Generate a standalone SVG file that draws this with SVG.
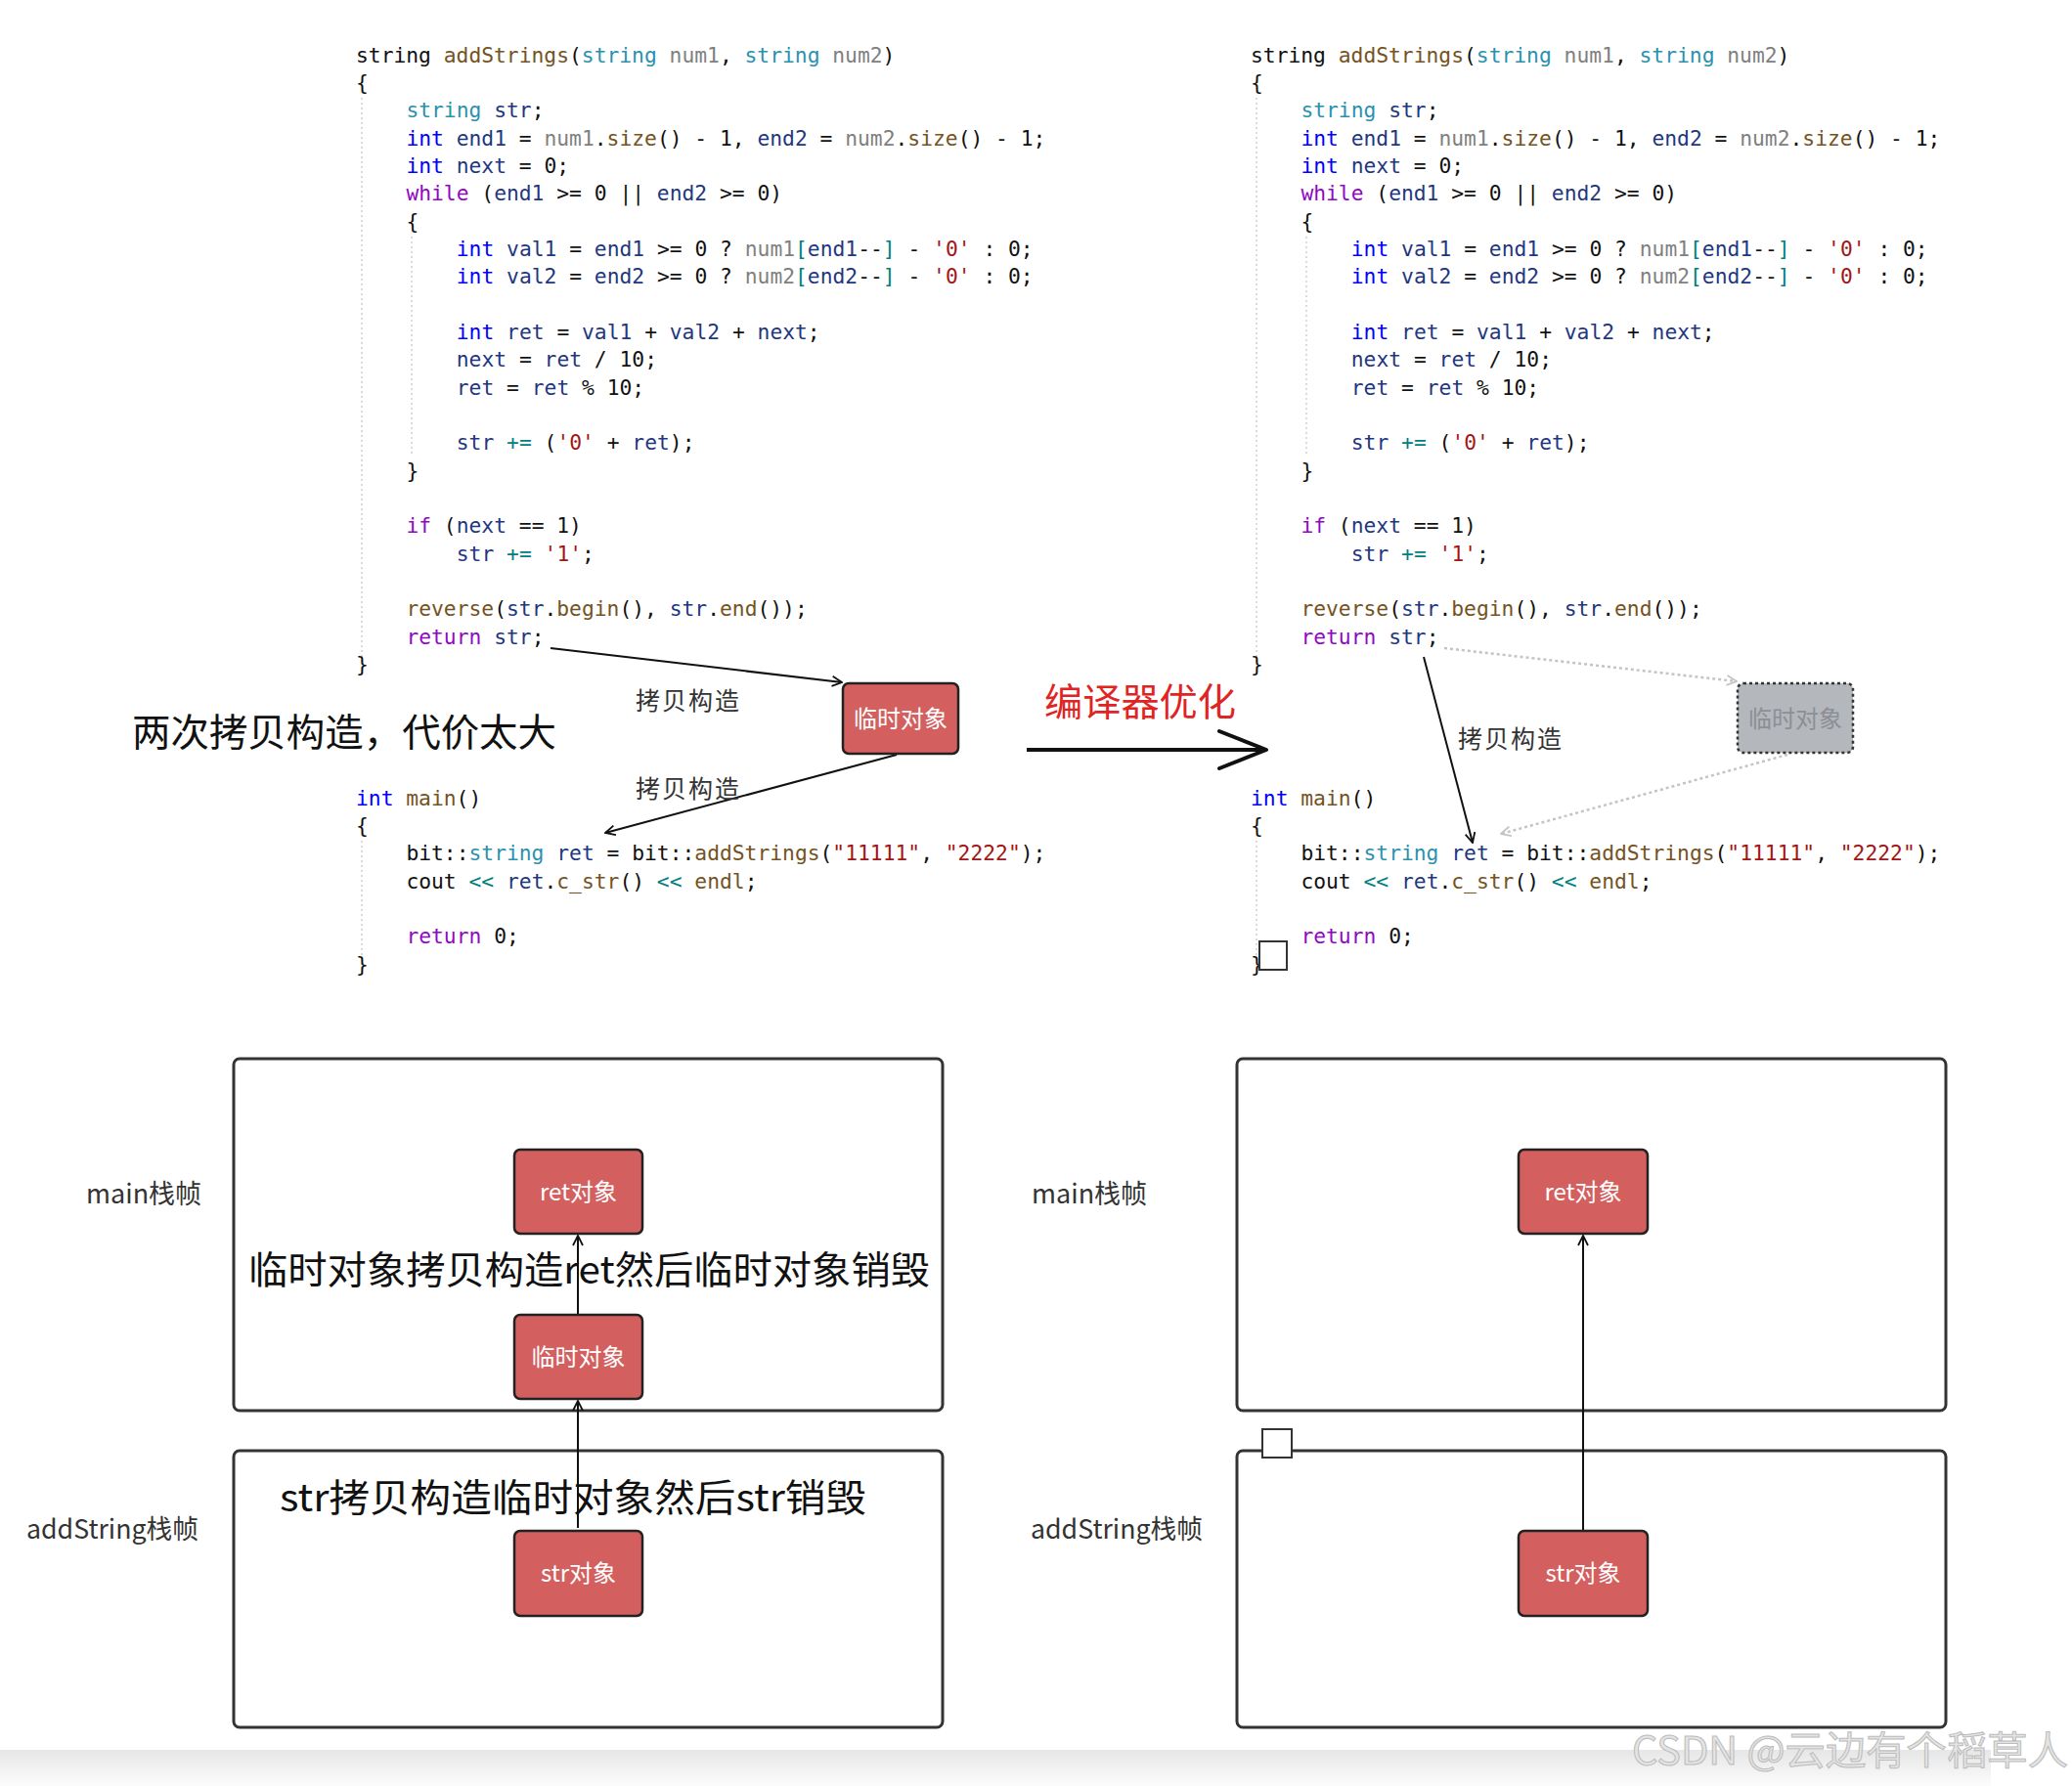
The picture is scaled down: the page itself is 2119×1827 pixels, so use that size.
<svg xmlns="http://www.w3.org/2000/svg" width="2119" height="1827" viewBox="0 0 2119 1827">
<style>
.code{font-family:"DejaVu Sans Mono","Liberation Mono",monospace;font-size:21.3px;fill:#111}
.t{fill:#2B91AF}.p{fill:#808080}.f{fill:#74531F}.v{fill:#1F377F}.s{fill:#A31515}.k{fill:#0000FF}.c{fill:#8F08C4}.o{fill:#008080}
.cjk{font-family:"Noto Sans CJK SC","Noto Sans",sans-serif}
.lbl{font-family:"Noto Sans CJK SC","Noto Sans",sans-serif;font-size:25px;fill:#333}
.big{font-family:"Noto Sans CJK SC","Noto Sans",sans-serif;font-size:39px;fill:#111}
.frame{fill:#fff;stroke:#333;stroke-width:3}
.obj{fill:#D45F5F;stroke:#222;stroke-width:2.5}
.objt{font-family:"Noto Sans CJK SC","Noto Sans",sans-serif;font-size:24px;fill:#fff;text-anchor:middle}
.side{font-family:"Noto Sans CJK SC","Noto Sans",sans-serif;font-size:27px;fill:#333}
.guide{stroke:#d0d0d0;stroke-width:1.5;stroke-dasharray:2 3}
.conn{stroke:#111;stroke-width:2;fill:none}
.dot{stroke:#c4c4c4;stroke-width:2.5;stroke-dasharray:3 3;fill:none}
</style>
<defs>
<marker id="ah" viewBox="0 0 12 12" refX="11" refY="6" markerWidth="12" markerHeight="12" markerUnits="userSpaceOnUse" orient="auto"><path d="M1,1 L11,6 L1,11" fill="none" stroke="#111" stroke-width="1.8"/></marker>
<marker id="ahg" viewBox="0 0 12 12" refX="11" refY="6" markerWidth="12" markerHeight="12" markerUnits="userSpaceOnUse" orient="auto"><path d="M1,1 L11,6 L1,11" fill="none" stroke="#c4c4c4" stroke-width="1.8"/></marker>
<linearGradient id="band" x1="0" y1="0" x2="0" y2="1"><stop offset="0" stop-color="#e6e6e6"/><stop offset="1" stop-color="#fcfcfc"/></linearGradient>
</defs>
<rect width="2119" height="1827" fill="#fff"/>

<!-- indent guides -->
<g id="guides">
<line class="guide" x1="370" y1="100" x2="370" y2="678"/>
<line class="guide" x1="421" y1="242" x2="421" y2="466"/>
<line class="guide" x1="370" y1="860" x2="370" y2="985"/>
<line class="guide" x1="1285" y1="100" x2="1285" y2="678"/>
<line class="guide" x1="1336" y1="242" x2="1336" y2="466"/>
<line class="guide" x1="1285" y1="860" x2="1285" y2="985"/>
</g>

<g id="code-left" class="code" xml:space="preserve">
<text x="364" y="64">string <tspan class="f">addStrings</tspan>(<tspan class="t">string</tspan> <tspan class="p">num1</tspan>, <tspan class="t">string</tspan> <tspan class="p">num2</tspan>)</text>
<text x="364" y="92">{</text>
<text x="415.4" y="120"><tspan class="t">string</tspan> <tspan class="v">str</tspan>;</text>
<text x="415.4" y="149"><tspan class="k">int</tspan> <tspan class="v">end1</tspan> = <tspan class="p">num1</tspan>.<tspan class="f">size</tspan>() - 1, <tspan class="v">end2</tspan> = <tspan class="p">num2</tspan>.<tspan class="f">size</tspan>() - 1;</text>
<text x="415.4" y="177"><tspan class="k">int</tspan> <tspan class="v">next</tspan> = 0;</text>
<text x="415.4" y="205"><tspan class="c">while</tspan> (<tspan class="v">end1</tspan> &gt;= 0 || <tspan class="v">end2</tspan> &gt;= 0)</text>
<text x="415.4" y="234">{</text>
<text x="466.8" y="262"><tspan class="k">int</tspan> <tspan class="v">val1</tspan> = <tspan class="v">end1</tspan> &gt;= 0 ? <tspan class="p">num1</tspan><tspan class="o">[</tspan><tspan class="v">end1</tspan>--<tspan class="o">]</tspan> - <tspan class="s">'0'</tspan> : 0;</text>
<text x="466.8" y="290"><tspan class="k">int</tspan> <tspan class="v">val2</tspan> = <tspan class="v">end2</tspan> &gt;= 0 ? <tspan class="p">num2</tspan><tspan class="o">[</tspan><tspan class="v">end2</tspan>--<tspan class="o">]</tspan> - <tspan class="s">'0'</tspan> : 0;</text>
<text x="466.8" y="347"><tspan class="k">int</tspan> <tspan class="v">ret</tspan> = <tspan class="v">val1</tspan> + <tspan class="v">val2</tspan> + <tspan class="v">next</tspan>;</text>
<text x="466.8" y="375"><tspan class="v">next</tspan> = <tspan class="v">ret</tspan> / 10;</text>
<text x="466.8" y="404"><tspan class="v">ret</tspan> = <tspan class="v">ret</tspan> % 10;</text>
<text x="466.8" y="460"><tspan class="v">str</tspan> <tspan class="o">+=</tspan> (<tspan class="s">'0'</tspan> + <tspan class="v">ret</tspan>);</text>
<text x="415.4" y="489">}</text>
<text x="415.4" y="545"><tspan class="c">if</tspan> (<tspan class="v">next</tspan> == 1)</text>
<text x="466.8" y="574"><tspan class="v">str</tspan> <tspan class="o">+=</tspan> <tspan class="s">'1'</tspan>;</text>
<text x="415.4" y="630"><tspan class="f">reverse</tspan>(<tspan class="v">str</tspan>.<tspan class="f">begin</tspan>(), <tspan class="v">str</tspan>.<tspan class="f">end</tspan>());</text>
<text x="415.4" y="659"><tspan class="c">return</tspan> <tspan class="v">str</tspan>;</text>
<text x="364" y="687">}</text>
<text x="364" y="824"><tspan class="k">int</tspan> <tspan class="f">main</tspan>()</text>
<text x="364" y="852">{</text>
<text x="415.4" y="880">bit::<tspan class="t">string</tspan> <tspan class="v">ret</tspan> = bit::<tspan class="f">addStrings</tspan>(<tspan class="s">"11111"</tspan>, <tspan class="s">"2222"</tspan>);</text>
<text x="415.4" y="909">cout <tspan class="o">&lt;&lt;</tspan> <tspan class="v">ret</tspan>.<tspan class="f">c_str</tspan>() <tspan class="o">&lt;&lt;</tspan> <tspan class="f">endl</tspan>;</text>
<text x="415.4" y="965"><tspan class="c">return</tspan> 0;</text>
<text x="364" y="994">}</text>
</g>

<g id="code-right" class="code" xml:space="preserve">
<text x="1279" y="64">string <tspan class="f">addStrings</tspan>(<tspan class="t">string</tspan> <tspan class="p">num1</tspan>, <tspan class="t">string</tspan> <tspan class="p">num2</tspan>)</text>
<text x="1279" y="92">{</text>
<text x="1330.4" y="120"><tspan class="t">string</tspan> <tspan class="v">str</tspan>;</text>
<text x="1330.4" y="149"><tspan class="k">int</tspan> <tspan class="v">end1</tspan> = <tspan class="p">num1</tspan>.<tspan class="f">size</tspan>() - 1, <tspan class="v">end2</tspan> = <tspan class="p">num2</tspan>.<tspan class="f">size</tspan>() - 1;</text>
<text x="1330.4" y="177"><tspan class="k">int</tspan> <tspan class="v">next</tspan> = 0;</text>
<text x="1330.4" y="205"><tspan class="c">while</tspan> (<tspan class="v">end1</tspan> &gt;= 0 || <tspan class="v">end2</tspan> &gt;= 0)</text>
<text x="1330.4" y="234">{</text>
<text x="1381.8" y="262"><tspan class="k">int</tspan> <tspan class="v">val1</tspan> = <tspan class="v">end1</tspan> &gt;= 0 ? <tspan class="p">num1</tspan><tspan class="o">[</tspan><tspan class="v">end1</tspan>--<tspan class="o">]</tspan> - <tspan class="s">'0'</tspan> : 0;</text>
<text x="1381.8" y="290"><tspan class="k">int</tspan> <tspan class="v">val2</tspan> = <tspan class="v">end2</tspan> &gt;= 0 ? <tspan class="p">num2</tspan><tspan class="o">[</tspan><tspan class="v">end2</tspan>--<tspan class="o">]</tspan> - <tspan class="s">'0'</tspan> : 0;</text>
<text x="1381.8" y="347"><tspan class="k">int</tspan> <tspan class="v">ret</tspan> = <tspan class="v">val1</tspan> + <tspan class="v">val2</tspan> + <tspan class="v">next</tspan>;</text>
<text x="1381.8" y="375"><tspan class="v">next</tspan> = <tspan class="v">ret</tspan> / 10;</text>
<text x="1381.8" y="404"><tspan class="v">ret</tspan> = <tspan class="v">ret</tspan> % 10;</text>
<text x="1381.8" y="460"><tspan class="v">str</tspan> <tspan class="o">+=</tspan> (<tspan class="s">'0'</tspan> + <tspan class="v">ret</tspan>);</text>
<text x="1330.4" y="489">}</text>
<text x="1330.4" y="545"><tspan class="c">if</tspan> (<tspan class="v">next</tspan> == 1)</text>
<text x="1381.8" y="574"><tspan class="v">str</tspan> <tspan class="o">+=</tspan> <tspan class="s">'1'</tspan>;</text>
<text x="1330.4" y="630"><tspan class="f">reverse</tspan>(<tspan class="v">str</tspan>.<tspan class="f">begin</tspan>(), <tspan class="v">str</tspan>.<tspan class="f">end</tspan>());</text>
<text x="1330.4" y="659"><tspan class="c">return</tspan> <tspan class="v">str</tspan>;</text>
<text x="1279" y="687">}</text>
<text x="1279" y="824"><tspan class="k">int</tspan> <tspan class="f">main</tspan>()</text>
<text x="1279" y="852">{</text>
<text x="1330.4" y="880">bit::<tspan class="t">string</tspan> <tspan class="v">ret</tspan> = bit::<tspan class="f">addStrings</tspan>(<tspan class="s">"11111"</tspan>, <tspan class="s">"2222"</tspan>);</text>
<text x="1330.4" y="909">cout <tspan class="o">&lt;&lt;</tspan> <tspan class="v">ret</tspan>.<tspan class="f">c_str</tspan>() <tspan class="o">&lt;&lt;</tspan> <tspan class="f">endl</tspan>;</text>
<text x="1330.4" y="965"><tspan class="c">return</tspan> 0;</text>
<text x="1279" y="994">}</text>
</g>

<!-- bottom frames -->
<g id="frame-main-left"><rect class="frame" x="239" y="1083" width="725" height="360" rx="6"/><text class="side" x="88" y="1231">main栈帧</text></g>
<g id="frame-add-left"><rect class="frame" x="239" y="1484" width="725" height="283" rx="6"/><text class="side" x="27" y="1574" textLength="176" lengthAdjust="spacingAndGlyphs">addString栈帧</text></g>
<g id="frame-main-right"><rect class="frame" x="1265" y="1083" width="725" height="360" rx="6"/><text class="side" x="1055" y="1231">main栈帧</text></g>
<g id="frame-add-right"><rect class="frame" x="1265" y="1484" width="725" height="283" rx="6"/><text class="side" x="1054" y="1574" textLength="176" lengthAdjust="spacingAndGlyphs">addString栈帧</text></g>

<!-- connectors -->
<g id="connectors">
<line class="conn" x1="563" y1="663" x2="861" y2="698" marker-end="url(#ah)"/>
<line class="conn" x1="917" y1="772" x2="619" y2="852" marker-end="url(#ah)"/>
<line class="dot" x1="1477" y1="663" x2="1776" y2="697" marker-end="url(#ahg)"/>
<line class="dot" x1="1828" y1="772" x2="1535" y2="853" marker-end="url(#ahg)"/>
<line class="conn" x1="1456" y1="672" x2="1506" y2="862" marker-end="url(#ah)"/>
<line x1="1050" y1="767" x2="1292" y2="767" stroke="#111" stroke-width="4"/>
<polyline points="1247,748 1295,767 1247,786" fill="none" stroke="#111" stroke-width="4" stroke-linejoin="round" stroke-linecap="round"/>
<line class="conn" x1="591" y1="1345" x2="591" y2="1264" marker-end="url(#ah)"/>
<line class="conn" x1="591" y1="1563" x2="591" y2="1433" marker-end="url(#ah)"/>
<line class="conn" x1="1619" y1="1566" x2="1619" y2="1264" marker-end="url(#ah)"/>
</g>

<!-- nodes -->
<g id="temp-left"><rect class="obj" x="862" y="699" width="118" height="72" rx="6"/><text class="objt" x="921" y="744">临时对象</text></g>
<g id="temp-right"><rect x="1777" y="699" width="118" height="71" rx="6" fill="#B4B7BC" stroke="#333" stroke-width="2.5" stroke-dasharray="3 3"/><text class="objt" x="1836" y="744" style="fill:#8c8f94">临时对象</text></g>
<g id="ret-left"><rect class="obj" x="526" y="1176" width="131" height="86" rx="6"/><text class="objt" x="591.5" y="1228">ret对象</text></g>
<g id="tmp-left-frame"><rect class="obj" x="526" y="1345" width="131" height="86" rx="6"/><text class="objt" x="591.5" y="1397">临时对象</text></g>
<g id="str-left"><rect class="obj" x="526" y="1566" width="131" height="87" rx="6"/><text class="objt" x="591.5" y="1618">str对象</text></g>
<g id="ret-right"><rect class="obj" x="1553" y="1176" width="132" height="86" rx="6"/><text class="objt" x="1619" y="1228">ret对象</text></g>
<g id="str-right"><rect class="obj" x="1553" y="1566" width="132" height="87" rx="6"/><text class="objt" x="1619" y="1618">str对象</text></g>

<!-- small squares -->
<rect x="1288" y="963" width="28" height="29" fill="#fff" stroke="#333" stroke-width="2"/>
<rect x="1291" y="1462" width="30" height="29" fill="#fff" stroke="#333" stroke-width="2"/>

<!-- labels -->
<g id="labels">
<text class="lbl" x="650" y="726" textLength="106">拷贝构造</text>
<text class="lbl" x="650" y="816" textLength="106">拷贝构造</text>
<text class="lbl" x="1491" y="765" textLength="106">拷贝构造</text>
<text class="big" x="135" y="763" textLength="434" lengthAdjust="spacingAndGlyphs">两次拷贝构造，代价太大</text>
<text class="big" x="1068" y="732" textLength="196" lengthAdjust="spacingAndGlyphs" style="fill:#E02424">编译器优化</text>
<text class="big" x="254" y="1313" textLength="697" lengthAdjust="spacingAndGlyphs">临时对象拷贝构造ret然后临时对象销毁</text>
<text class="big" x="286" y="1546" textLength="600" lengthAdjust="spacingAndGlyphs">str拷贝构造临时对象然后str销毁</text>
</g>

<rect x="0" y="1790" width="2036" height="37" fill="url(#band)"/>
<text class="cjk" x="1669" y="1805" font-size="40" textLength="446" lengthAdjust="spacingAndGlyphs" fill="#e4e4e4" stroke="#bcbcbc" stroke-width="1">CSDN @云边有个稻草人</text>
</svg>
